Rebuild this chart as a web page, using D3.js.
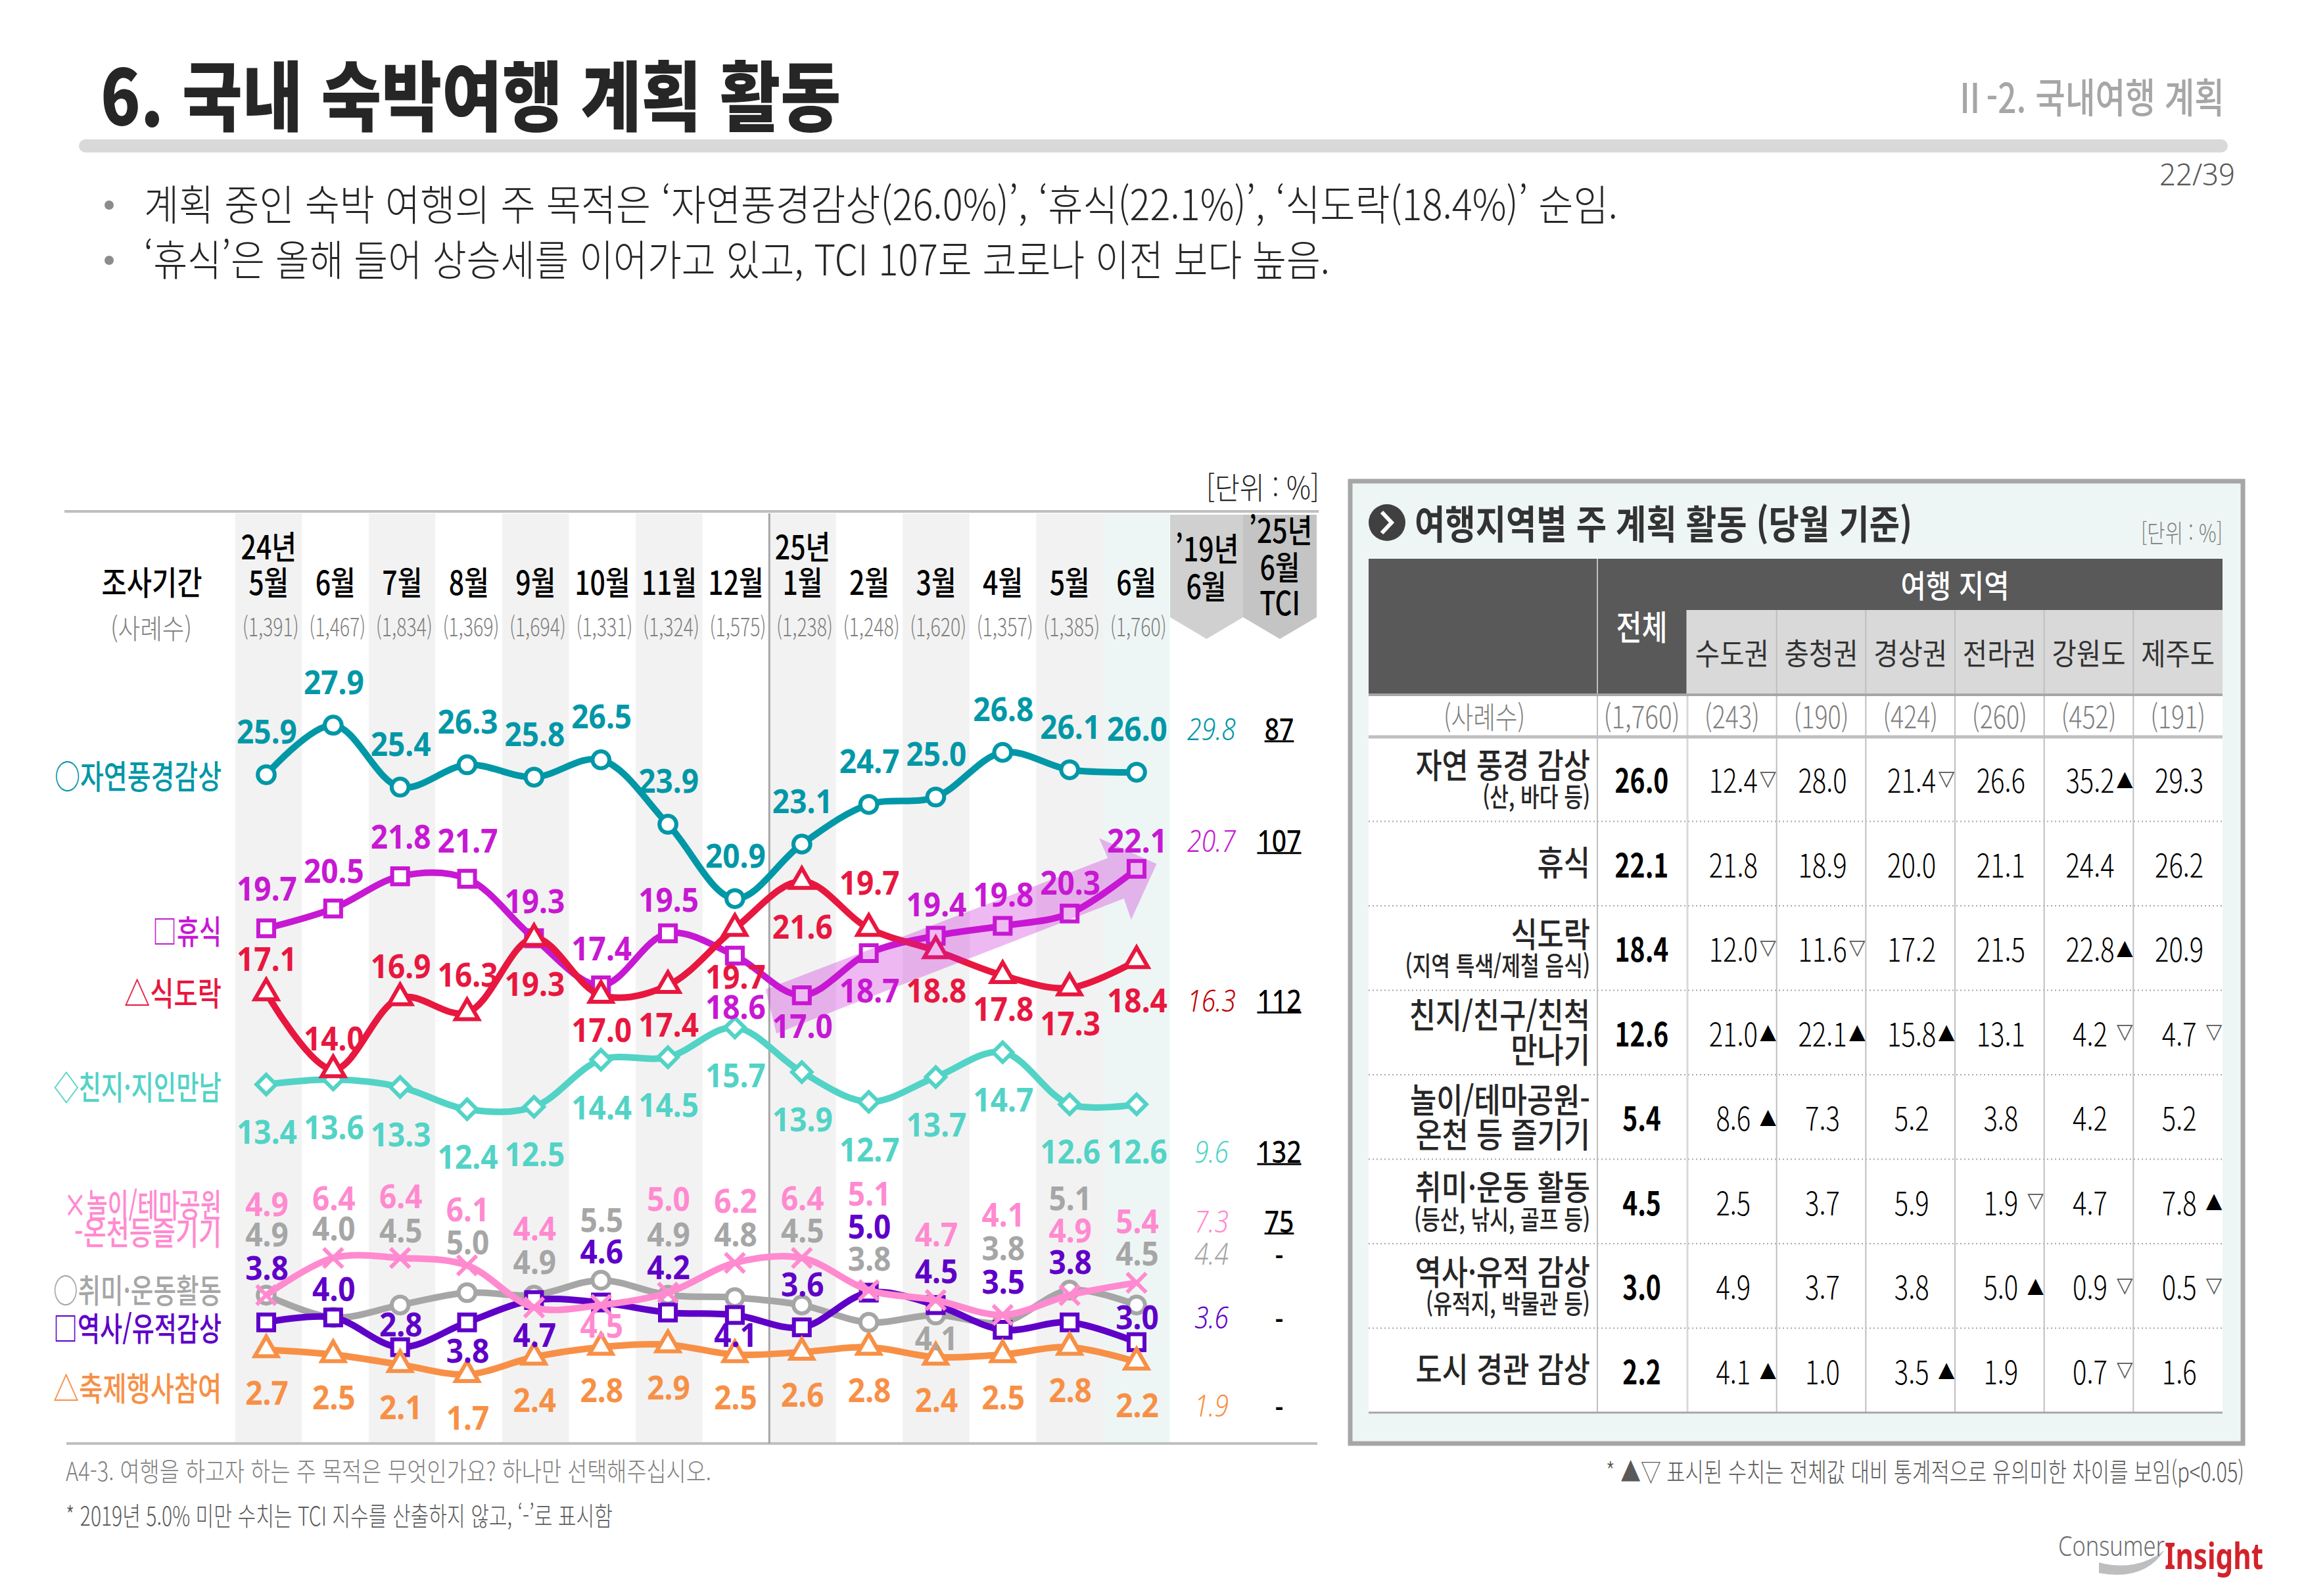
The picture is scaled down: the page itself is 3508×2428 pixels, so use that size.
<!DOCTYPE html>
<html lang="ko">
<head>
<meta charset="utf-8">
<title>국내 숙박여행 계획 활동</title>
<script src="https://cdn.jsdelivr.net/npm/d3@7"></script>
<style>
html, body { margin: 0; padding: 0; background: #fff; overflow: hidden; }
text { font-family: 'Noto Sans CJK KR', 'Noto Sans', sans-serif; }
</style>
</head>
<body>
<svg id="chart" width="3508" height="2428" viewBox="0 0 3508 2428"></svg>
<script>
// survey periods, left chart
var periods = ['2405', '2406', '2407', '2408', '2409', '2410', '2411', '2412', '2501', '2502', '2503', '2504', '2505', '2506'];
var monthLabels = ['5월', '6월', '7월', '8월', '9월', '10월', '11월', '12월', '1월', '2월', '3월', '4월', '5월', '6월'];
var sampleSizes = ['(1,391)', '(1,467)', '(1,834)', '(1,369)', '(1,694)', '(1,331)', '(1,324)', '(1,575)', '(1,238)', '(1,248)', '(1,620)', '(1,357)', '(1,385)', '(1,760)'];

// series values
var natureVals = [25.9, 27.9, 25.4, 26.3, 25.8, 26.5, 23.9, 20.9, 23.1, 24.7, 25.0, 26.8, 26.1, 26.0];
var restVals = [19.7, 20.5, 21.8, 21.7, 19.3, 17.4, 19.5, 18.6, 17.0, 18.7, 19.4, 19.8, 20.3, 22.1];
var foodVals = [17.1, 14.0, 16.9, 16.3, 19.3, 17.0, 17.4, 19.7, 21.6, 19.7, 18.8, 17.8, 17.3, 18.4];
var friendVals = [13.4, 13.6, 13.3, 12.4, 12.5, 14.4, 14.5, 15.7, 13.9, 12.7, 13.7, 14.7, 12.6, 12.6];
var parkVals = [4.9, 6.4, 6.4, 6.1, 4.4, 4.5, 5.0, 6.2, 6.4, 5.1, 4.7, 4.1, 4.9, 5.4];
var hobbyVals = [4.9, 4.0, 4.5, 5.0, 4.9, 5.5, 4.9, 4.8, 4.5, 3.8, 4.1, 3.8, 5.1, 4.5];
var historyVals = [3.8, 4.0, 2.8, 3.8, 4.7, 4.6, 4.2, 4.1, 3.6, 5.0, 4.5, 3.5, 3.8, 3.0];
var festivalVals = [2.7, 2.5, 2.1, 1.7, 2.4, 2.8, 2.9, 2.5, 2.6, 2.8, 2.4, 2.5, 2.8, 2.2];

// '19 june and TCI columns
var june2019 = [29.8, 20.7, 16.3, 9.6, 7.3, 4.4, 3.6, 1.9];
var tciVals = ['87', '107', '112', '132', '75', '-', '-', '-'];

// where each value label sits relative to its point (px)
var natureDy = [-65, -65, -65, -65, -65, -65, -65, -65, -65, -65, -65, -65, -65, -65];
var restDy = [-60, -57, -60, -57, -56, -56, -50, 79, 47, 57, -47, -47, -46, -42];
var foodDy = [-51, -47, -47, -57, 70, 53, 60, 74, 70, -69, 61, 52, 55, 61];
var friendDy = [73, 73, 73, 73, 73, 73, 73, 73, 73, 73, 73, 73, 73, 73];
var parkDy = [-138, -90, -93, -85, -120, 32, -142, -94, -90, -146, -99, -152, -98, -93];
var hobbyDy = [-92, -135, -113, -76, -50, -91, -92, -96, -113, -96, 36, -112, -139, -78];
var historyDy = [-82, -43, -34, 44, 54, -77, -68, 31, -65, -100, -51, -73, -91, -37];
var festivalDy = [66, 66, 66, 67, 66, 66, 66, 66, 66, 66, 66, 66, 66, 66];

// right hand table
var regions = ['수도권', '충청권', '경상권', '전라권', '강원도', '제주도'];
var regionSamples = ['(243)', '(190)', '(424)', '(260)', '(452)', '(191)'];
var tableLabels = [['자연 풍경 감상', '(산, 바다 등)'], ['휴식'], ['식도락', '(지역 특색/제철 음식)'], ['친지/친구/친척', '만나기'],
    ['놀이/테마공원-', '온천 등 즐기기'], ['취미·운동 활동', '(등산, 낚시, 골프 등)'], ['역사·유적 감상', '(유적지, 박물관 등)'], ['도시 경관 감상']];
var tableTotals = ['26.0', '22.1', '18.4', '12.6', '5.4', '4.5', '3.0', '2.2'];
var tableVals = [
    ['12.4', '28.0', '21.4', '26.6', '35.2', '29.3'],
    ['21.8', '18.9', '20.0', '21.1', '24.4', '26.2'],
    ['12.0', '11.6', '17.2', '21.5', '22.8', '20.9'],
    ['21.0', '22.1', '15.8', '13.1', '4.2', '4.7'],
    ['8.6', '7.3', '5.2', '3.8', '4.2', '5.2'],
    ['2.5', '3.7', '5.9', '1.9', '4.7', '7.8'],
    ['4.9', '3.7', '3.8', '5.0', '0.9', '0.5'],
    ['4.1', '1.0', '3.5', '1.9', '0.7', '1.6']];
var tableFlags = [
    ['▽', '', '▽', '', '▲', ''],
    ['', '', '', '', '', ''],
    ['▽', '▽', '', '', '▲', ''],
    ['▲', '▲', '▲', '', '▽', '▽'],
    ['▲', '', '', '', '', ''],
    ['', '', '', '▽', '', '▲'],
    ['', '', '', '▲', '▽', '▽'],
    ['▲', '', '▲', '', '▽', '']];

var series = [
    {values: friendVals, dy: friendDy, color: '#52d3c6', symbol: d3.symbolDiamond2, size: 560},
    {values: restVals, dy: restDy, color: '#c718d3', symbol: d3.symbolSquare, size: 580},
    {values: foodVals, dy: foodDy, color: '#e8173f', symbol: d3.symbolTriangle, size: 520},
    {values: natureVals, dy: natureDy, color: '#0097a7', symbol: d3.symbolCircle, size: 520},
    {values: hobbyVals, dy: hobbyDy, color: '#a6a6a6', symbol: d3.symbolCircle, size: 520},
    {values: historyVals, dy: historyDy, color: '#5f00c8', symbol: d3.symbolSquare, size: 580},
    {values: parkVals, dy: parkDy, color: '#ff8ad0', symbol: d3.symbolTimes, size: 560},
    {values: festivalVals, dy: festivalDy, color: '#f79046', symbol: d3.symbolTriangle, size: 520}
];

var legendItems = [
    {text: '○자연풍경감상', y: 1182, color: '#0097a7', w: 254},
    {text: '□휴식', y: 1418, color: '#c718d3', w: 105},
    {text: '△식도락', y: 1512, color: '#e8173f', w: 148},
    {text: '◇친지·지인만남', y: 1655, color: '#52d3c6', w: 255},
    {text: '×놀이/테마공원', y: 1834, color: '#ff8ad0', w: 240},
    {text: '-온천등즐기기', y: 1876, color: '#ff8ad0', w: 224},
    {text: '○취미·운동활동', y: 1964, color: '#a6a6a6', w: 256},
    {text: '□역사/유적감상', y: 2022, color: '#5f00c8', w: 256},
    {text: '△축제행사참여', y: 2113, color: '#f79046', w: 256}
];

// june 2019 and TCI rows follow the last label of these series
var sideRows = [
    {series: 3, color: '#0097a7'},
    {series: 1, color: '#c718d3'},
    {series: 2, color: '#c00000'},
    {series: 0, color: '#52d3c6'},
    {series: 6, color: '#ff8ad0'},
    {series: 4, color: '#a6a6a6'},
    {series: 5, color: '#5f00c8'},
    {series: 7, color: '#f79046'}
];

var svg = d3.select('#chart');

var x = d3.scalePoint().domain(periods).range([405, 1729]);
var band = d3.scaleBand().domain(periods).range([358, 1779.5]);
var y = d3.scaleLinear().domain([0, 30]).range([2155, 1024]);

// Draws a centred text line, squeezed to a given width or by a ratio.
// Hangul sits low on the central baseline so it gets nudged up.
var label = function(parent, str, px, py, opts) {
    var t = parent.append('text')
        .attr('x', px)
        .attr('y', opts.family ? py - 1.5 : py - opts.size * 0.08)
        .attr('dominant-baseline', 'central')
        .attr('text-anchor', opts.anchor || 'middle')
        .attr('font-size', opts.size)
        .attr('font-weight', opts.weight || 400)
        .attr('fill', opts.fill || '#000')
        .text(str);
    if (opts.family) { t.style('font-family', opts.family); }
    if (opts.italic) { t.attr('font-style', 'italic'); }
    if (opts.ratio) { opts.w = t.node().getComputedTextLength() * opts.ratio; }
    if (opts.w) {
        t.attr('textLength', opts.w).attr('lengthAdjust', 'spacingAndGlyphs');
    }
    return t;
};

// ---- page heading
var head = svg.append('g');
label(head, '6. 국내 숙박여행 계획 활동', 153, 148, {anchor: 'start', size: 116, weight: 900, fill: '#262626', w: 1126});
label(head, 'Ⅱ-2. 국내여행 계획', 3384, 150, {anchor: 'end', size: 62, weight: 500, fill: '#a6a6a6', w: 412});
head.append('rect').attr('x', 120).attr('y', 212).attr('width', 3269).attr('height', 20).attr('rx', 10).attr('fill', '#d9d9d9');
label(head, '22/39', 3400, 265, {anchor: 'end', size: 46, weight: 300, fill: '#595959', family: "'Noto Sans', sans-serif", ratio: 0.95});
head.append('circle').attr('cx', 166).attr('cy', 312).attr('r', 7).attr('fill', '#8c8c8c');
head.append('circle').attr('cx', 166).attr('cy', 396).attr('r', 7).attr('fill', '#8c8c8c');
label(head, '계획 중인 숙박 여행의 주 목적은 ‘자연풍경감상(26.0%)’, ‘휴식(22.1%)’, ‘식도락(18.4%)’ 순임.', 219, 312,
    {anchor: 'start', size: 64, weight: 300, fill: '#262626', w: 2242});
label(head, '‘휴식’은 올해 들어 상승세를 이어가고 있고, TCI 107로 코로나 이전 보다 높음.', 219, 396,
    {anchor: 'start', size: 64, weight: 300, fill: '#262626', w: 1804});

// ---- left chart: month bands and header
var chart = svg.append('g');
chart.selectAll('rect.band')
    .data(periods)
    .join('rect')
    .attr('class', 'band')
    .attr('x', function(d) { return band(d); })
    .attr('y', 781)
    .attr('width', band.bandwidth())
    .attr('height', 1415)
    .attr('fill', function(d, i) {
        if (i == 13) { return '#eef6f5'; }
        return i % 2 == 0 ? '#f2f2f2' : '#fff';
    });

chart.append('line').attr('x1', 98).attr('x2', 2006).attr('y1', 778).attr('y2', 778).attr('stroke', '#bfbfbf').attr('stroke-width', 4);
chart.append('line').attr('x1', 101).attr('x2', 2004).attr('y1', 2196).attr('y2', 2196).attr('stroke', '#bfbfbf').attr('stroke-width', 4);
chart.append('line').attr('x1', band('2501')).attr('x2', band('2501')).attr('y1', 781).attr('y2', 2196).attr('stroke', '#a6a6a6').attr('stroke-width', 3);

label(chart, '[단위 : %]', 2007, 743, {anchor: 'end', size: 46, weight: 300, fill: '#262626', w: 172});
label(chart, '조사기간', 231, 887, {size: 50, weight: 500, w: 153});
label(chart, '(사례수)', 230, 957, {size: 42, weight: 300, fill: '#808080', w: 124});
label(chart, '24년', band('2405') + band.bandwidth() / 2, 833, {size: 50, weight: 500, ratio: 0.82});
label(chart, '25년', band('2501') + band.bandwidth() / 2, 833, {size: 50, weight: 500, ratio: 0.82});

periods.forEach(function(p, i) {
    var cx = band(p) + band.bandwidth() / 2;
    label(chart, monthLabels[i], cx, 887, {size: 50, weight: 500, ratio: 0.82});
    label(chart, sampleSizes[i], cx + 3, 955, {size: 38, weight: 300, fill: '#808080', w: 86});
});

// grey pennants above the side columns
var pennant = function(x0, x1, fill) {
    chart.append('path')
        .attr('d', d3.line()([[x0, 783], [x1, 783], [x1, 939], [(x0 + x1) / 2, 972], [x0, 939]]) + 'Z')
        .attr('fill', fill);
};
pennant(1780, 1891, '#d0d0d0');
pennant(1891, 2003, '#c4c4c4');
label(chart, '’19년', 1836, 836, {size: 50, weight: 500, ratio: 0.82});
label(chart, '6월', 1835, 893, {size: 50, weight: 500, ratio: 0.82});
label(chart, '’25년', 1948, 808, {size: 50, weight: 500, ratio: 0.82});
label(chart, '6월', 1947, 864, {size: 50, weight: 500, ratio: 0.82});
label(chart, 'TCI', 1947, 918, {size: 50, weight: 500, ratio: 0.8});

// ---- lines
var line = d3.line()
    .x(function(d, i) { return x(periods[i]); })
    .y(function(d) { return y(d); })
    .curve(d3.curveCatmullRom.alpha(0.5));

var marks = chart.append('g');
series.forEach(function(s) {
    var g = marks.append('g');
    g.append('path')
        .attr('d', line(s.values))
        .attr('fill', 'none')
        .attr('stroke', s.color)
        .attr('stroke-width', 10);
    g.selectAll('path.pt')
        .data(s.values)
        .join('path')
        .attr('class', 'pt')
        .attr('transform', function(d, i) { return 'translate(' + x(periods[i]) + ',' + y(d) + ')'; })
        .attr('d', d3.symbol().type(s.symbol).size(s.size)())
        .attr('fill', s.symbol == d3.symbolTimes ? 'none' : '#fff')
        .attr('stroke', s.color)
        .attr('stroke-width', 6);
});

// translucent arrow lies over the marks, given in chart units
var arrowPts = [[7.46, 17.24], [12.57, 22.54], [12.44, 23.34], [13.30, 22.30], [12.92, 20.05], [12.81, 20.90], [7.62, 15.46]];
var stepX = x.step();
chart.append('path')
    .attr('d', d3.line()
        .x(function(d) { return x.range()[0] + d[0] * stepX; })
        .y(function(d) { return y(d[1]); })(arrowPts) + 'Z')
    .attr('fill', '#c718d3')
    .attr('fill-opacity', 0.3);

// value labels go on top of the marks
var labels = chart.append('g');
series.forEach(function(s) {
    s.values.forEach(function(v, i) {
        label(labels, v.toFixed(1), x(periods[i]) + 1, y(v) + s.dy[i],
            {size: 50, weight: 700, fill: s.color, family: "'Noto Sans', sans-serif", ratio: 0.92});
    });
});

// series names
legendItems.forEach(function(d) {
    label(chart, d.text, 337, d.y, {anchor: 'end', size: 50, weight: 500, fill: d.color, w: d.w});
});

// '19 and TCI columns
sideRows.forEach(function(r, i) {
    var s = series[r.series];
    var rowY = y(s.values[13]) + s.dy[13];
    label(chart, june2019[i].toFixed(1), 1843, rowY, {size: 46, weight: 300, fill: r.color, italic: true, family: "'Noto Sans', sans-serif", ratio: 0.85});
    var t = label(chart, tciVals[i], 1946, rowY, {size: 46, weight: 500, family: "'Noto Sans', sans-serif", ratio: 0.85});
    if (tciVals[i] != '-') {
        var w = t.node().getComputedTextLength();
        chart.append('line').attr('x1', 1946 - w / 2).attr('x2', 1946 + w / 2).attr('y1', rowY + 18).attr('y2', rowY + 18)
            .attr('stroke', '#000').attr('stroke-width', 3);
    }
});

// ---- right panel
var panel = svg.append('g');
panel.append('rect').attr('x', 2054).attr('y', 732).attr('width', 1358).attr('height', 1464)
    .attr('fill', '#eef6f5').attr('stroke', '#a6a6a6').attr('stroke-width', 7);
panel.append('circle').attr('cx', 2110).attr('cy', 795).attr('r', 28).attr('fill', '#404040');
panel.append('path').attr('d', d3.line()([[2102, 779], [2117, 795], [2102, 811]]))
    .attr('fill', 'none').attr('stroke', '#fff').attr('stroke-width', 6);
label(panel, '여행지역별 주 계획 활동 (당월 기준)', 2152, 798, {anchor: 'start', size: 60, weight: 700, fill: '#333', w: 757});
label(panel, '[단위 : %]', 3381, 812, {anchor: 'end', size: 38, weight: 300, fill: '#808080', w: 124});

var tableX0 = 2082, totalX0 = 2430, regionX0 = 2567, tableX1 = 3381;
var col = d3.scaleBand().domain(regions).range([regionX0, tableX1]);
var row = d3.scaleBand().domain(tableTotals.map(function(d, i) { return i; })).range([1121, 2149]);
var totalX = (totalX0 + regionX0) / 2;

panel.append('rect').attr('x', tableX0).attr('y', 850).attr('width', regionX0 - tableX0).attr('height', 207).attr('fill', '#595959');
panel.append('rect').attr('x', regionX0).attr('y', 850).attr('width', tableX1 - regionX0).attr('height', 78).attr('fill', '#595959');
panel.append('rect').attr('x', regionX0).attr('y', 928).attr('width', tableX1 - regionX0).attr('height', 129).attr('fill', '#d9d9d9');
panel.append('rect').attr('x', tableX0).attr('y', 1057).attr('width', tableX1 - tableX0).attr('height', 1092).attr('fill', '#fff');

label(panel, '여행 지역', (regionX0 + tableX1) / 2, 892, {size: 48, weight: 500, fill: '#fff', w: 165});
label(panel, '전체', totalX - 1, 956, {size: 52, weight: 500, fill: '#fff', w: 78});
label(panel, '(사례수)', 2258, 1092, {size: 46, weight: 300, fill: '#808080', w: 124});
label(panel, '(1,760)', totalX - 1, 1092, {size: 46, weight: 300, fill: '#808080', w: 116});

regions.forEach(function(r, i) {
    label(panel, r, col(r) + col.bandwidth() / 2, 995, {size: 46, weight: 400, fill: '#333', w: 112});
    label(panel, regionSamples[i], col(r) + col.bandwidth() / 2, 1092, {size: 46, weight: 300, fill: '#808080', w: 84});
});

// row rules and column rules
tableTotals.forEach(function(d, i) {
    if (i == 0) { return; }
    panel.append('line').attr('x1', tableX0).attr('x2', tableX1).attr('y1', row(i)).attr('y2', row(i))
        .attr('stroke', '#a6a6a6').attr('stroke-width', 2).attr('stroke-dasharray', '2 4');
});
[totalX0, regionX0].concat(regions.slice(1).map(col)).forEach(function(cx) {
    var top = cx == totalX0 ? 850 : 928;
    panel.append('line').attr('x1', cx).attr('x2', cx).attr('y1', top).attr('y2', 2149)
        .attr('stroke', cx == regionX0 ? '#d9d9d9' : '#bfbfbf').attr('stroke-width', cx == regionX0 ? 3 : 2);
});
panel.append('line').attr('x1', tableX0).attr('x2', tableX1).attr('y1', 1057).attr('y2', 1057).attr('stroke', '#a6a6a6').attr('stroke-width', 4);
panel.append('line').attr('x1', tableX0).attr('x2', tableX1).attr('y1', 1121).attr('y2', 1121).attr('stroke', '#bfbfbf').attr('stroke-width', 5);
panel.append('line').attr('x1', tableX0).attr('x2', tableX1).attr('y1', 2149).attr('y2', 2149).attr('stroke', '#a6a6a6').attr('stroke-width', 3);

tableLabels.forEach(function(lines, i) {
    var cy = row(i) + row.bandwidth() / 2;
    if (lines.length == 1) {
        label(panel, lines[0], 2419, cy, {anchor: 'end', size: 52, weight: 500, fill: '#262626', ratio: 0.84});
    } else if (lines[1].charAt(0) == '(') {
        label(panel, lines[0], 2419, cy - 20, {anchor: 'end', size: 52, weight: 500, fill: '#262626', ratio: 0.84});
        label(panel, lines[1], 2419, cy + 28, {anchor: 'end', size: 40, weight: 500, fill: '#262626', ratio: 0.78});
    } else {
        label(panel, lines[0], 2419, cy - 25, {anchor: 'end', size: 52, weight: 500, fill: '#262626', ratio: 0.84});
        label(panel, lines[1], 2419, cy + 28, {anchor: 'end', size: 52, weight: 500, fill: '#262626', ratio: 0.84});
    }
    label(panel, tableTotals[i], totalX - 1, cy + 3, {size: 50, weight: 700, fill: '#000', ratio: 0.78});
    regions.forEach(function(r, j) {
        var cx = col(r) + col.bandwidth() / 2;
        label(panel, tableVals[i][j], cx + 2, cy + 3, {size: 50, weight: 300, fill: '#000', ratio: 0.8});
        if (tableFlags[i][j]) {
            label(panel, tableFlags[i][j], col(r) + col.bandwidth() - 13, cy, {size: 32, fill: tableFlags[i][j] == '▲' ? '#000' : '#595959', family: "'DejaVu Sans', sans-serif"});
        }
    });
});

// ---- footnotes
var foot = svg.append('g');
label(foot, 'A4-3. 여행을 하고자 하는 주 목적은 무엇인가요? 하나만 선택해주십시오.', 100, 2239, {anchor: 'start', size: 40, weight: 300, fill: '#808080', w: 982});
label(foot, '* 2019년 5.0% 미만 수치는 TCI 지수를 산출하지 않고, ‘-’로 표시함', 100, 2307, {anchor: 'start', size: 40, weight: 300, fill: '#595959', w: 832});
label(foot, '* ▲▽ 표시된 수치는 전체값 대비 통계적으로 유의미한 차이를 보임(p<0.05)', 3414, 2240, {anchor: 'end', size: 40, weight: 300, fill: '#595959', w: 971});

// logo
foot.append('path').attr('d', 'M3193 2377 Q3250 2392 3293 2358 Q3262 2406 3193 2393 Z').attr('fill', '#bcbec0');
label(foot, 'Consumer', 3131, 2352, {anchor: 'start', size: 42, weight: 300, fill: '#6d6e71', w: 162, family: "'Noto Sans', sans-serif"});
label(foot, 'Insight', 3293, 2366, {anchor: 'start', size: 56, weight: 700, fill: '#d2232a', w: 150, family: "'Noto Sans', sans-serif"});
</script>
</body>
</html>
